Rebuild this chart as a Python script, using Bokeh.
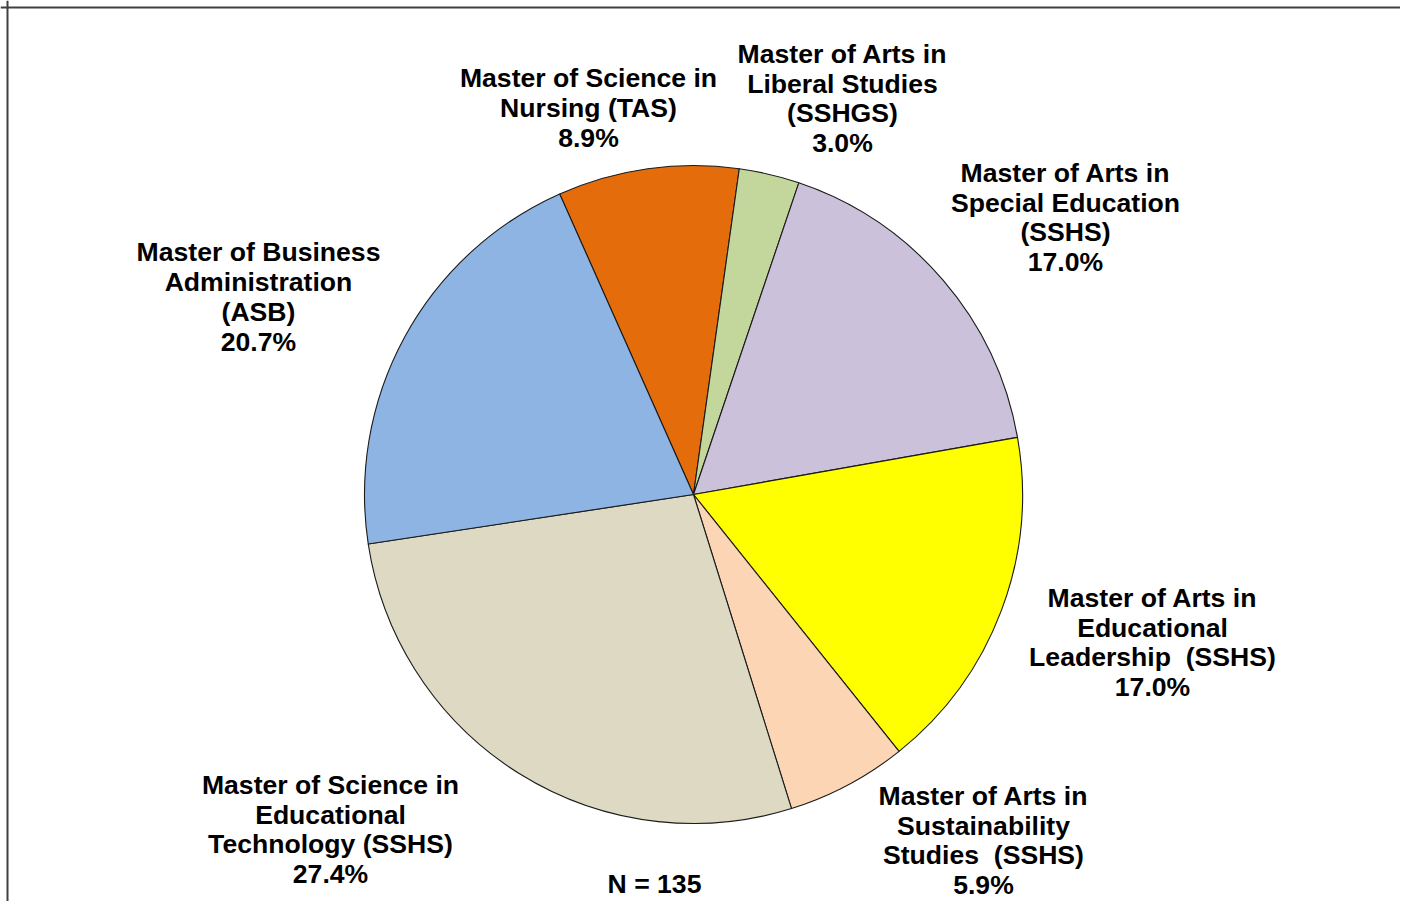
import numpy as np
from bokeh.plotting import figure
from bokeh.models import ColumnDataSource, Range1d, Span
from bokeh.core.properties import value
from bokeh.embed import file_html
from bokeh.resources import INLINE

# ---- data (clockwise order, starting from the Nursing slice) ----
programs = [
    "Master of Science in\nNursing (TAS)",
    "Master of Arts in\nLiberal Studies\n(SSHGS)",
    "Master of Arts in\nSpecial Education\n(SSHS)",
    "Master of Arts in\nEducational\nLeadership\u00a0 (SSHS)",
    "Master of Arts in\nSustainability\nStudies\u00a0 (SSHS)",
    "Master of Science in\nEducational\nTechnology (SSHS)",
    "Master of Business\nAdministration\n(ASB)",
]
counts = [12, 4, 23, 23, 8, 37, 28]
colors = ["#E46C0A", "#C3D69B", "#CCC1DA", "#FFFF00", "#FCD5B5", "#DDD9C3", "#8EB4E3"]

# label block centres (pixels from the top-left of the chart)
label_x = [588, 842, 1065, 1152, 983, 330, 258]
label_y = [107.5, 98, 217, 642, 840, 829, 296.5]

# ---- layout ----
W, H = 1400, 901
cx, cy, R = 693, 494, 329
start_cw_deg = -24.0  # clockwise from 12 o'clock

total = sum(counts)
fr = np.array(counts) / total
cum = np.concatenate([[0], np.cumsum(fr)]) * 360.0 + start_cw_deg
a_cw = cum[:-1]
b_cw = cum[1:]
start_ang = np.radians(90.0 - b_cw)
end_ang = np.radians(90.0 - a_cw)

pct = ["{:.1f}%".format(100.0 * f) for f in fr]
texts = [f"{n}\n{p_}" for n, p_ in zip(programs, pct)]

src = ColumnDataSource(dict(start=start_ang, end=end_ang, color=colors,
                            x=[cx] * len(counts), y=[-cy] * len(counts)))
lab = ColumnDataSource(dict(x=label_x, y=[-v for v in label_y], text=texts))

p = figure(width=W, height=H, x_range=Range1d(0, W), y_range=Range1d(-H, 0),
           output_backend="svg", toolbar_location=None, min_border=0,
           outline_line_color=None, background_fill_color="white")
p.axis.visible = False
p.grid.visible = False

p.wedge(x="x", y="y", radius=R, start_angle="start", end_angle="end",
        fill_color="color", line_color="#1a1a1a", line_width=1.1, source=src)

p.text(x="x", y="y", text="text", source=lab, text_align="center", text_baseline="middle",
       text_font=value("Liberation Sans"), text_font_style="bold", text_font_size="26.6px",
       text_color="black", text_line_height=0.99)

p.text(x=[654], y=[-883], text=[f"N = {total}"], text_align="center", text_baseline="middle",
       text_font=value("Liberation Sans"), text_font_style="bold", text_font_size="26.6px",
       text_color="black")

p.add_layout(Span(location=-7, dimension="width", line_color="#404040", line_width=2))
p.add_layout(Span(location=7, dimension="height", line_color="#404040", line_width=2))

open("out.html", "w").write(file_html(p, INLINE))
